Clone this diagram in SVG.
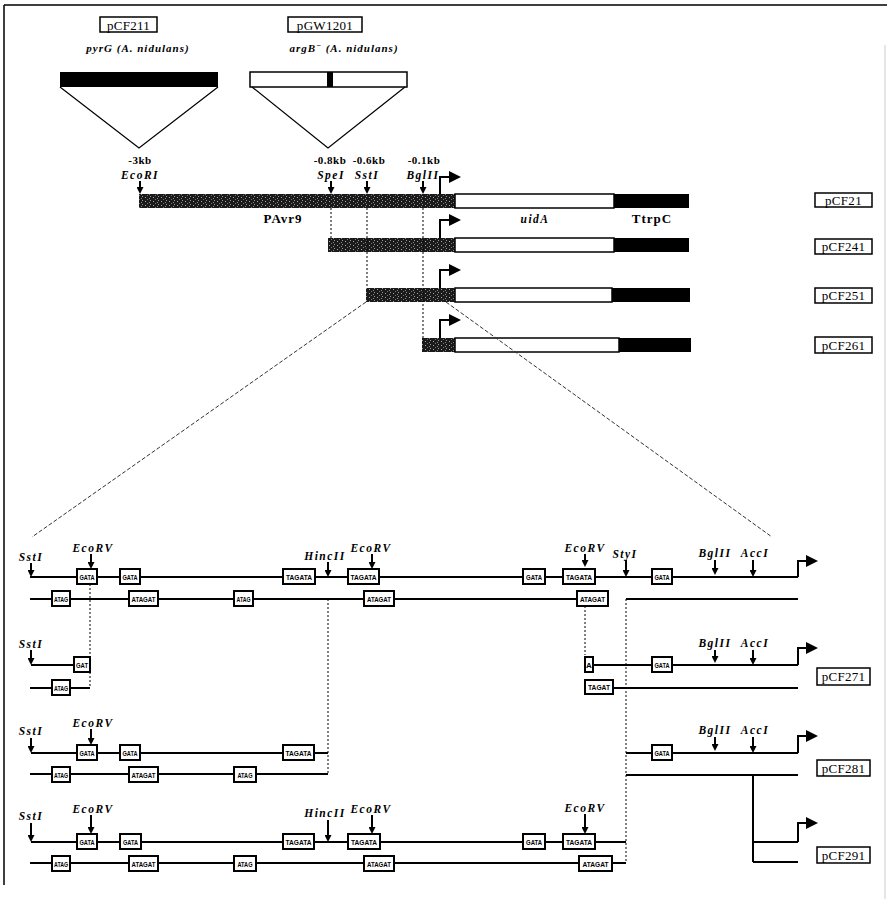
<svg xmlns="http://www.w3.org/2000/svg" width="887" height="899" viewBox="0 0 887 899">
<defs>
<pattern id="stip" width="8" height="4" patternUnits="userSpaceOnUse">
<rect width="8" height="4" fill="#1a1a1a"/>
<rect x="1" y="1" width="1" height="1" fill="#aaa"/>
<rect x="5" y="2" width="1" height="1" fill="#888"/>
<rect x="3" y="3" width="1" height="1" fill="#777"/>
<rect x="6" y="0" width="1" height="1" fill="#999"/>
</pattern>
<marker id="dn" viewBox="0 0 7 7" refX="5" refY="3.5" markerWidth="7" markerHeight="7" markerUnits="userSpaceOnUse" orient="auto"><path d="M0,0 L7,3.5 L0,7 z" fill="#000"/></marker>
<marker id="pr" viewBox="0 0 12 12" refX="2" refY="6" markerWidth="12" markerHeight="12" markerUnits="userSpaceOnUse" orient="auto"><path d="M0,0 L12,6 L0,12 z" fill="#000"/></marker>
</defs>
<style>
.ln{stroke:#000;stroke-width:2;fill:none}
.ar{stroke:#000;stroke-width:2;fill:none;marker-end:url(#dn)}
.pa{stroke:#000;stroke-width:2;fill:none;marker-end:url(#pr)}
.bx{fill:#fff;stroke:#000;stroke-width:2}
.lb{fill:#fff;stroke:#000;stroke-width:1.5}
.dot{stroke:#000;stroke-width:1;fill:none;stroke-dasharray:2,2}
.dsh{stroke:#333;stroke-width:1;fill:none;stroke-dasharray:4,2}
.tri{stroke:#000;stroke-width:1.2;fill:none}
.nm{font-family:"Liberation Serif",serif;font-size:13px;text-anchor:middle;letter-spacing:0.3px}
.st{font-family:"Liberation Serif",serif;font-style:italic;font-weight:bold;font-size:11.5px;text-anchor:middle;letter-spacing:1.5px}
.kb{font-family:"Liberation Serif",serif;font-weight:bold;font-size:11px;text-anchor:middle;letter-spacing:0.5px}
.gn{font-family:"Liberation Serif",serif;font-weight:bold;font-size:13px;text-anchor:middle;letter-spacing:1px}
.sp{font-family:"Liberation Serif",serif;font-style:italic;font-weight:bold;font-size:11px;text-anchor:middle;letter-spacing:1px}
.bt{font-family:"Liberation Sans",sans-serif;font-weight:bold;font-size:8px;text-anchor:middle}
</style>
<rect width="887" height="899" fill="#fff"/>
<g id="frame">
<path d="M4,5 H887 M4,5 V885" stroke="#000" stroke-width="1.5" fill="none"/>
<path d="M885,45 V899" stroke="#ccc" stroke-width="1" fill="none"/>
</g>

<g id="pCF211">
<rect class="lb" x="100" y="17" width="57" height="15"/>
<text class="nm" x="128.5" y="29.5">pCF211</text>
<text class="sp" x="138" y="52">pyrG (A. nidulans)</text>
<rect x="60" y="72" width="158" height="15" fill="#000"/>
<path class="tri" d="M60,87 L139,148 L218,87"/>
</g>

<g id="pGW1201">
<rect class="lb" x="288" y="17" width="74" height="15"/>
<text class="nm" x="325" y="29.5">pGW1201</text>
<text class="sp" x="344" y="52">argB<tspan dy="-4" font-size="8">−</tspan><tspan dy="4"> (A. nidulans)</tspan></text>
<rect x="250" y="72" width="157" height="15" fill="#fff" stroke="#000" stroke-width="1.5"/>
<rect x="327" y="72" width="6" height="15" fill="#000"/>
<path class="tri" d="M252,87 L328,148 L405,87"/>
</g>

<g id="sites-top">
<text class="kb" x="140" y="164">-3kb</text>
<text class="st" x="140" y="179">EcoRI</text>
<path class="ar" d="M140,181 V192"/>
<text class="kb" x="330" y="164">-0.8kb</text>
<text class="st" x="331" y="179">SpeI</text>
<path class="ar" d="M331,181 V192"/>
<text class="kb" x="369" y="164">-0.6kb</text>
<text class="st" x="367" y="179">SstI</text>
<path class="ar" d="M367,181 V192"/>
<text class="kb" x="424" y="164">-0.1kb</text>
<text class="st" x="423" y="179">BglII</text>
<path class="ar" d="M423,181 V192"/>
</g>

<g id="pCF21">
<rect x="139" y="194" width="316" height="14" fill="url(#stip)"/>
<rect x="455" y="194" width="159" height="14" fill="#fff" stroke="#000" stroke-width="1.5"/>
<rect x="614" y="194" width="75" height="14" fill="#000"/>
<path class="pa" d="M440,194 V177 H451"/>
<text class="gn" x="283" y="223">PAvr9</text>
<text class="st" x="535" y="223">uidA</text>
<text class="gn" x="652" y="223">TtrpC</text>
<rect class="lb" x="815" y="193" width="57" height="14"/>
<text class="nm" x="843.5" y="204.5">pCF21</text>
</g>

<g id="pCF241">
<rect x="328" y="238" width="127" height="14" fill="url(#stip)"/>
<rect x="455" y="238" width="159" height="14" fill="#fff" stroke="#000" stroke-width="1.5"/>
<rect x="614" y="238" width="75" height="14" fill="#000"/>
<path class="pa" d="M440,238 V220 H451"/>
<rect class="lb" x="815" y="239" width="57" height="15"/>
<text class="nm" x="843.5" y="251">pCF241</text>
</g>

<g id="pCF251">
<rect x="366" y="288" width="89" height="14" fill="url(#stip)"/>
<rect x="455" y="288" width="157" height="14" fill="#fff" stroke="#000" stroke-width="1.5"/>
<rect x="612" y="288" width="78" height="14" fill="#000"/>
<path class="pa" d="M440,288 V270 H451"/>
<rect class="lb" x="815" y="288" width="57" height="15"/>
<text class="nm" x="843.5" y="300">pCF251</text>
</g>

<g id="pCF261">
<rect x="422" y="338" width="33" height="14" fill="url(#stip)"/>
<rect x="455" y="338" width="164" height="14" fill="#fff" stroke="#000" stroke-width="1.5"/>
<rect x="619" y="338" width="72" height="14" fill="#000"/>
<path class="pa" d="M440,338 V320 H451"/>
<rect class="lb" x="815" y="337" width="57" height="16"/>
<text class="nm" x="843.5" y="349.5">pCF261</text>
</g>

<g id="connectors">
<path class="dot" d="M331,208 V238 M367,208 V288 M423,208 V338"/>
<path class="dsh" d="M366,302 L32,537 M446,302 L772,537"/>
<path class="dot" d="M90,584 V688 M328,599 V774 M585,606 V655 M626,599 V862"/>
<path class="ln" d="M753,775 V862" stroke-width="1"/>
</g>

<g id="construct-full">
<path class="ln" d="M30,577 H798"/>
<path class="pa" d="M798,577 V561 H808"/>
<path class="ln" d="M30,599 H608 M626,599 H798"/>
<text class="st" x="31" y="561">SstI</text><path class="ar" d="M31,563 V575"/>
<text class="st" x="93" y="552">EcoRV</text><path class="ar" d="M91,554 V567"/>
<text class="st" x="325" y="560">HincII</text><path class="ar" d="M328,562 V575"/>
<text class="st" x="371" y="552">EcoRV</text><path class="ar" d="M372,554 V567"/>
<text class="st" x="585" y="552">EcoRV</text><path class="ar" d="M585,554 V565"/>
<text class="st" x="625" y="558">StyI</text><path class="ar" d="M626,560 V575"/>
<text class="st" x="715" y="557">BglII</text><path class="ar" d="M715,560 V573"/>
<text class="st" x="755" y="557">AccI</text><path class="ar" d="M753,560 V575"/>
<rect class="bx" x="77" y="569" width="20" height="15"/><text class="bt" x="87" y="579.5" textLength="15" lengthAdjust="spacingAndGlyphs">GATA</text>
<rect class="bx" x="120" y="569" width="20" height="15"/><text class="bt" x="130" y="579.5" textLength="15" lengthAdjust="spacingAndGlyphs">GATA</text>
<rect class="bx" x="283" y="569" width="32" height="15"/><text class="bt" x="299" y="579.5" textLength="26" lengthAdjust="spacingAndGlyphs">TAGATA</text>
<rect class="bx" x="348" y="569" width="31" height="15"/><text class="bt" x="363.5" y="579.5" textLength="26" lengthAdjust="spacingAndGlyphs">TAGATA</text>
<rect class="bx" x="523" y="569" width="22" height="15"/><text class="bt" x="534" y="579.5" textLength="16" lengthAdjust="spacingAndGlyphs">GATA</text>
<rect class="bx" x="563" y="569" width="32" height="15"/><text class="bt" x="579" y="579.5" textLength="26" lengthAdjust="spacingAndGlyphs">TAGATA</text>
<rect class="bx" x="652" y="569" width="20" height="15"/><text class="bt" x="662" y="579.5" textLength="15" lengthAdjust="spacingAndGlyphs">GATA</text>
<rect class="bx" x="52" y="591" width="18" height="15"/><text class="bt" x="61" y="601.5" textLength="14" lengthAdjust="spacingAndGlyphs">ATAG</text>
<rect class="bx" x="129" y="591" width="29" height="15"/><text class="bt" x="143.5" y="601.5" textLength="24" lengthAdjust="spacingAndGlyphs">ATAGAT</text>
<rect class="bx" x="234" y="591" width="19" height="15"/><text class="bt" x="243.5" y="601.5" textLength="14" lengthAdjust="spacingAndGlyphs">ATAG</text>
<rect class="bx" x="364" y="591" width="30" height="15"/><text class="bt" x="379" y="601.5" textLength="24" lengthAdjust="spacingAndGlyphs">ATAGAT</text>
<rect class="bx" x="577" y="591" width="31" height="15"/><text class="bt" x="592.5" y="601.5" textLength="25" lengthAdjust="spacingAndGlyphs">ATAGAT</text>
</g>

<g id="pCF271">
<path class="ln" d="M31,665 H74 M30,688 H90"/>
<text class="st" x="31" y="648">SstI</text><path class="ar" d="M31,650 V663"/>
<rect class="bx" x="74" y="657" width="16" height="15"/><text class="bt" x="82" y="667.5" textLength="12" lengthAdjust="spacingAndGlyphs">GAT</text>
<rect class="bx" x="52" y="680" width="18" height="15"/><text class="bt" x="61" y="690.5" textLength="14" lengthAdjust="spacingAndGlyphs">ATAG</text>
<path class="ln" d="M593,665 H798"/>
<path class="pa" d="M798,665 V648 H808"/>
<path class="ln" d="M613,688 H798"/>
<rect class="bx" x="585" y="657" width="8" height="15"/><text class="bt" x="589" y="667.5">A</text>
<rect class="bx" x="585" y="680" width="28" height="14"/><text class="bt" x="599" y="690" textLength="22" lengthAdjust="spacingAndGlyphs">TAGAT</text>
<rect class="bx" x="652" y="657" width="20" height="15"/><text class="bt" x="662" y="667.5" textLength="15" lengthAdjust="spacingAndGlyphs">GATA</text>
<text class="st" x="715" y="647">BglII</text><path class="ar" d="M715,650 V661"/>
<text class="st" x="755" y="647">AccI</text><path class="ar" d="M753,650 V663"/>
<rect class="lb" x="817" y="668" width="53" height="17"/>
<text class="nm" x="843.5" y="681">pCF271</text>
</g>

<g id="pCF281">
<path class="ln" d="M31,753 H328 M30,774 H328"/>
<text class="st" x="31" y="735">SstI</text><path class="ar" d="M31,738 V751"/>
<text class="st" x="93" y="727">EcoRV</text><path class="ar" d="M91,729 V743"/>
<rect class="bx" x="77" y="745" width="20" height="15"/><text class="bt" x="87" y="755.5" textLength="15" lengthAdjust="spacingAndGlyphs">GATA</text>
<rect class="bx" x="120" y="745" width="20" height="15"/><text class="bt" x="130" y="755.5" textLength="15" lengthAdjust="spacingAndGlyphs">GATA</text>
<rect class="bx" x="283" y="745" width="31" height="15"/><text class="bt" x="298.5" y="755.5" textLength="26" lengthAdjust="spacingAndGlyphs">TAGATA</text>
<rect class="bx" x="52" y="767" width="18" height="15"/><text class="bt" x="61" y="777.5" textLength="14" lengthAdjust="spacingAndGlyphs">ATAG</text>
<rect class="bx" x="129" y="767" width="29" height="15"/><text class="bt" x="143.5" y="777.5" textLength="24" lengthAdjust="spacingAndGlyphs">ATAGAT</text>
<rect class="bx" x="234" y="767" width="22" height="15"/><text class="bt" x="245" y="777.5" textLength="15" lengthAdjust="spacingAndGlyphs">ATAG</text>
<path class="ln" d="M626,753 H798"/>
<path class="pa" d="M798,753 V736 H808"/>
<path class="ln" d="M626,775 H798"/>
<rect class="bx" x="652" y="745" width="20" height="15"/><text class="bt" x="662" y="755.5" textLength="15" lengthAdjust="spacingAndGlyphs">GATA</text>
<text class="st" x="715" y="734">BglII</text><path class="ar" d="M715,737 V749"/>
<text class="st" x="755" y="734">AccI</text><path class="ar" d="M753,737 V751"/>
<rect class="lb" x="817" y="760" width="53" height="16"/>
<text class="nm" x="843.5" y="772.5">pCF281</text>
</g>

<g id="pCF291">
<path class="ln" d="M31,842 H626 M30,863 H626"/>
<text class="st" x="31" y="820">SstI</text><path class="ar" d="M31,823 V840"/>
<text class="st" x="93" y="813">EcoRV</text><path class="ar" d="M91,815 V832"/>
<text class="st" x="325" y="817">HincII</text><path class="ar" d="M328,820 V840"/>
<text class="st" x="371" y="813">EcoRV</text><path class="ar" d="M372,815 V832"/>
<text class="st" x="585" y="812">EcoRV</text><path class="ar" d="M585,814 V832"/>
<rect class="bx" x="77" y="834" width="20" height="15"/><text class="bt" x="87" y="844.5" textLength="15" lengthAdjust="spacingAndGlyphs">GATA</text>
<rect class="bx" x="120" y="834" width="21" height="15"/><text class="bt" x="130.5" y="844.5" textLength="15" lengthAdjust="spacingAndGlyphs">GATA</text>
<rect class="bx" x="283" y="834" width="31" height="15"/><text class="bt" x="298.5" y="844.5" textLength="26" lengthAdjust="spacingAndGlyphs">TAGATA</text>
<rect class="bx" x="348" y="834" width="32" height="15"/><text class="bt" x="364" y="844.5" textLength="26" lengthAdjust="spacingAndGlyphs">TAGATA</text>
<rect class="bx" x="523" y="834" width="22" height="15"/><text class="bt" x="534" y="844.5" textLength="16" lengthAdjust="spacingAndGlyphs">GATA</text>
<rect class="bx" x="563" y="834" width="32" height="15"/><text class="bt" x="579" y="844.5" textLength="26" lengthAdjust="spacingAndGlyphs">TAGATA</text>
<rect class="bx" x="52" y="856" width="18" height="15"/><text class="bt" x="61" y="866.5" textLength="14" lengthAdjust="spacingAndGlyphs">ATAG</text>
<rect class="bx" x="129" y="856" width="29" height="15"/><text class="bt" x="143.5" y="866.5" textLength="24" lengthAdjust="spacingAndGlyphs">ATAGAT</text>
<rect class="bx" x="234" y="856" width="22" height="15"/><text class="bt" x="245" y="866.5" textLength="15" lengthAdjust="spacingAndGlyphs">ATAG</text>
<rect class="bx" x="364" y="856" width="30" height="15"/><text class="bt" x="379" y="866.5" textLength="24" lengthAdjust="spacingAndGlyphs">ATAGAT</text>
<rect class="bx" x="579" y="856" width="33" height="15"/><text class="bt" x="595.5" y="866.5" textLength="26" lengthAdjust="spacingAndGlyphs">ATAGAT</text>
<path class="ln" d="M753,842 H798"/>
<path class="pa" d="M798,842 V823 H808"/>
<path class="ln" d="M753,862 H798"/>
<rect class="lb" x="817" y="847" width="53" height="16"/>
<text class="nm" x="843.5" y="859.5">pCF291</text>
</g>
</svg>
